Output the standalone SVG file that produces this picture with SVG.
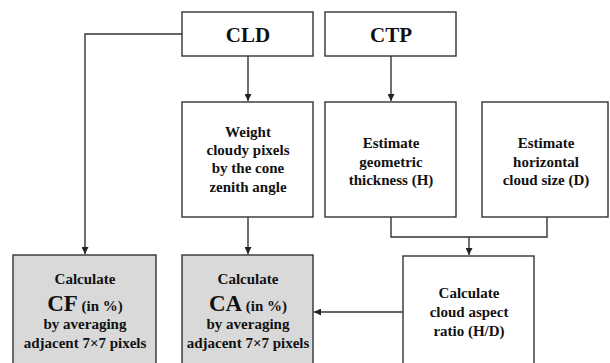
<svg xmlns="http://www.w3.org/2000/svg" width="610" height="363" viewBox="0 0 610 363">
<defs>
<marker id="ah" viewBox="0 0 10 10" refX="10" refY="5" markerWidth="7" markerHeight="7" markerUnits="userSpaceOnUse" orient="auto">
<path d="M0,0 L10,5 L0,10 z" fill="#222"/>
</marker>
<style>
.box{fill:#fff;stroke:#333;stroke-width:1.4}
.gray{fill:#d9d9d9}
.t{font-family:"Liberation Serif","Times New Roman",serif;font-weight:bold;font-size:15px;fill:#111;text-anchor:middle}
.big{font-size:21px}
.xl{font-size:23px}
.c{fill:none;stroke:#333;stroke-width:1.4}
</style>
</defs>
<rect width="610" height="363" fill="#fff"/>
<g id="connectors">
<path class="c" d="M182,34 H85 V254" marker-end="url(#ah)"/>
<path class="c" d="M248,56 V101" marker-end="url(#ah)"/>
<path class="c" d="M391,56 V101" marker-end="url(#ah)"/>
<path class="c" d="M248,217 V254" marker-end="url(#ah)"/>
<path class="c" d="M391,217 V237 H547 V217"/>
<path class="c" d="M469,237 V255" marker-end="url(#ah)"/>
<path class="c" d="M403,312 H314" marker-end="url(#ah)"/>
</g>
<g id="cld">
<rect class="box" x="182" y="12" width="131" height="44"/>
<text class="t big" x="248" y="42">CLD</text>
</g>
<g id="ctp">
<rect class="box" x="325" y="12" width="131" height="44"/>
<text class="t big" x="391" y="42">CTP</text>
</g>
<g id="weight">
<rect class="box" x="182" y="102" width="131" height="115"/>
<text class="t" x="248" y="137">Weight</text>
<text class="t" x="248" y="155">cloudy pixels</text>
<text class="t" x="248" y="173">by the cone</text>
<text class="t" x="248" y="192">zenith angle</text>
</g>
<g id="geometric">
<rect class="box" x="325" y="102" width="131" height="115"/>
<text class="t" x="391" y="148">Estimate</text>
<text class="t" x="391" y="167">geometric</text>
<text class="t" x="391" y="185">thickness (H)</text>
</g>
<g id="horizontal">
<rect class="box" x="482" y="102" width="126" height="115"/>
<text class="t" x="546" y="148">Estimate</text>
<text class="t" x="546" y="167">horizontal</text>
<text class="t" x="546" y="185">cloud size (D)</text>
</g>
<g id="cf">
<rect class="box gray" x="13" y="255" width="143" height="115"/>
<text class="t" x="85" y="284">Calculate</text>
<text class="t" x="85" y="311"><tspan class="xl">CF</tspan> (in %)</text>
<text class="t" x="85" y="329">by averaging</text>
<text class="t" x="85" y="348">adjacent 7×7 pixels</text>
</g>
<g id="ca">
<rect class="box gray" x="182" y="255" width="131" height="115"/>
<text class="t" x="248" y="284">Calculate</text>
<text class="t" x="248" y="311"><tspan class="xl">CA</tspan> (in %)</text>
<text class="t" x="248" y="329">by averaging</text>
<text class="t" x="248" y="348">adjacent 7×7 pixels</text>
</g>
<g id="aspect">
<rect class="box" x="403" y="256" width="131" height="115"/>
<text class="t" x="469" y="298">Calculate</text>
<text class="t" x="469" y="317">cloud aspect</text>
<text class="t" x="469" y="336">ratio (H/D)</text>
</g>
</svg>
